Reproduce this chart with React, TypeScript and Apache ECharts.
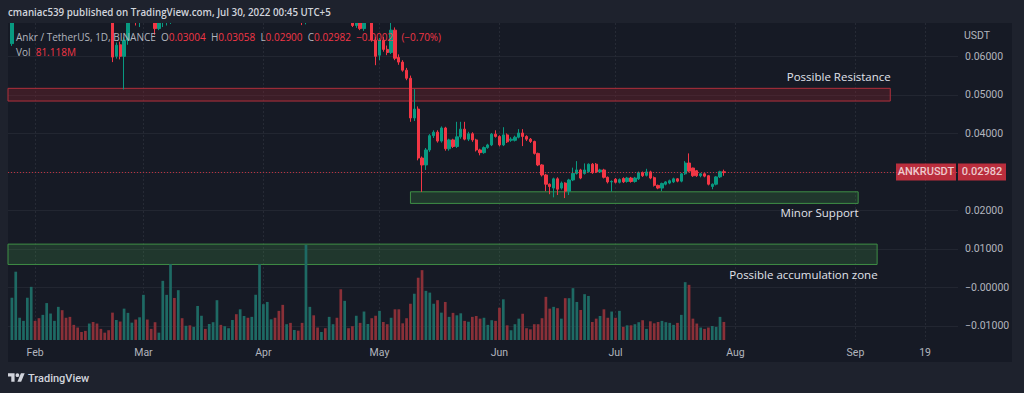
import React, { useEffect, useRef } from "react";
import * as echarts from "echarts";

// ---- data (x = day index, 0 = 2022-01-26) ----
const opens = [
  0.0633, 0.0700, 0.0718, 0.0732, 0.0745, 0.0772, 0.0805, 0.0790, 0.0776, 0.0801,
  0.0840, 0.0862, 0.0880, 0.0915, 0.0880, 0.0858, 0.0832, 0.0818, 0.0805, 0.0798,
  0.0785, 0.0802, 0.0775, 0.0760, 0.0748, 0.0735, 0.0700, 0.0600, 0.0630, 0.0600,
  0.0642, 0.0702, 0.0722, 0.0690, 0.0718, 0.0752, 0.0728, 0.0705, 0.0672, 0.0696,
  0.0708, 0.0716, 0.0742, 0.0725, 0.0745, 0.0730, 0.0738, 0.0726, 0.0734, 0.0752,
  0.0766, 0.0758, 0.0768, 0.0779, 0.0805, 0.0796, 0.0808, 0.0815, 0.0830, 0.0812,
  0.0838, 0.0856, 0.0841, 0.0858, 0.0880, 0.0925, 0.0945, 0.0960, 0.0968, 0.0952,
  0.0925, 0.0890, 0.0898, 0.0862, 0.0871, 0.0842, 0.0745, 0.0768, 0.0790, 0.0762,
  0.0750, 0.0765, 0.0748, 0.0770, 0.0781, 0.0755, 0.0718, 0.0738, 0.0722, 0.0680,
  0.0708, 0.0672, 0.0695, 0.0712, 0.0642, 0.0603, 0.0642, 0.0618, 0.0610, 0.0668,
  0.0597, 0.0585, 0.0564, 0.0543, 0.0440, 0.0463, 0.0336, 0.0318, 0.0357, 0.0394,
  0.0403, 0.0380, 0.0414, 0.0360, 0.0383, 0.0366, 0.0391, 0.0411, 0.0385, 0.0399,
  0.0383, 0.0357, 0.0350, 0.0363, 0.0370, 0.0398, 0.0392, 0.0370, 0.0396, 0.0382,
  0.0382, 0.0390, 0.0401, 0.0392, 0.0385, 0.0379, 0.0348, 0.0318, 0.0292, 0.0268,
  0.0258, 0.0282, 0.0258, 0.0271, 0.0250, 0.0279, 0.0296, 0.0305, 0.0296, 0.0301,
  0.0320, 0.0320, 0.0300, 0.0305, 0.0286, 0.0274, 0.0281, 0.0273, 0.0283, 0.0275,
  0.0284, 0.0275, 0.0282, 0.0298, 0.0291, 0.0300, 0.0285, 0.0265, 0.0258, 0.0268,
  0.0271, 0.0274, 0.0282, 0.0276, 0.0295, 0.0323, 0.0310, 0.0303, 0.0290, 0.0295,
  0.0290, 0.0262, 0.0268, 0.0287, 0.03004,
];
const closes = [
  0.0700, 0.0718, 0.0732, 0.0745, 0.0772, 0.0805, 0.0790, 0.0776, 0.0801, 0.0840,
  0.0862, 0.0880, 0.0915, 0.0880, 0.0858, 0.0832, 0.0818, 0.0805, 0.0798, 0.0785,
  0.0802, 0.0775, 0.0760, 0.0748, 0.0735, 0.0700, 0.0598, 0.0629, 0.0600, 0.0642,
  0.0702, 0.0722, 0.0690, 0.0718, 0.0752, 0.0728, 0.0705, 0.0672, 0.0696, 0.0708,
  0.0716, 0.0742, 0.0725, 0.0745, 0.0730, 0.0738, 0.0726, 0.0734, 0.0752, 0.0766,
  0.0758, 0.0768, 0.0779, 0.0805, 0.0796, 0.0808, 0.0815, 0.0830, 0.0812, 0.0838,
  0.0856, 0.0841, 0.0858, 0.0880, 0.0925, 0.0945, 0.0960, 0.0968, 0.0952, 0.0925,
  0.0890, 0.0898, 0.0862, 0.0871, 0.0842, 0.0745, 0.0768, 0.0790, 0.0762, 0.0750,
  0.0765, 0.0748, 0.0770, 0.0781, 0.0755, 0.0718, 0.0738, 0.0722, 0.0680, 0.0708,
  0.0672, 0.0695, 0.0712, 0.0642, 0.0600, 0.0642, 0.0618, 0.0610, 0.0668, 0.0595,
  0.0585, 0.0564, 0.0543, 0.0440, 0.0463, 0.0336, 0.0318, 0.0357, 0.0394, 0.0403,
  0.0380, 0.0414, 0.0360, 0.0383, 0.0366, 0.0391, 0.0411, 0.0385, 0.0399, 0.0383,
  0.0357, 0.0350, 0.0363, 0.0370, 0.0398, 0.0392, 0.0370, 0.0396, 0.0378, 0.0385,
  0.0390, 0.0401, 0.0392, 0.0385, 0.0379, 0.0348, 0.0318, 0.0292, 0.0268, 0.0262,
  0.0282, 0.0255, 0.0271, 0.0250, 0.0279, 0.0296, 0.0305, 0.0284, 0.0305, 0.0320,
  0.0298, 0.0300, 0.0305, 0.0286, 0.0274, 0.0275, 0.0273, 0.0280, 0.0274, 0.0284,
  0.0275, 0.0284, 0.0298, 0.0290, 0.0300, 0.0284, 0.0265, 0.0258, 0.0270, 0.0274,
  0.0277, 0.0282, 0.0276, 0.0295, 0.0323, 0.0302, 0.0290, 0.0290, 0.0295, 0.0289,
  0.0268, 0.0268, 0.0287, 0.03003, 0.02982,
];
const lows = [
  0.0627, 0.0694, 0.0712, 0.0726, 0.0740, 0.0766, 0.0784, 0.0770, 0.0771, 0.0796,
  0.0832, 0.0855, 0.0872, 0.0872, 0.0850, 0.0825, 0.0811, 0.0798, 0.0792, 0.0778,
  0.0780, 0.0768, 0.0752, 0.0741, 0.0728, 0.0694, 0.0585, 0.0594, 0.0592, 0.0514,
  0.0630, 0.0696, 0.0680, 0.0676, 0.0712, 0.0722, 0.0698, 0.0656, 0.0668, 0.0676,
  0.0680, 0.0684, 0.0718, 0.0720, 0.0724, 0.0725, 0.0720, 0.0721, 0.0729, 0.0747,
  0.0752, 0.0753, 0.0763, 0.0774, 0.0790, 0.0791, 0.0803, 0.0810, 0.0806, 0.0807,
  0.0832, 0.0835, 0.0836, 0.0852, 0.0874, 0.0918, 0.0938, 0.0952, 0.0945, 0.0918,
  0.0882, 0.0884, 0.0856, 0.0856, 0.0836, 0.0681, 0.0683, 0.0762, 0.0756, 0.0744,
  0.0745, 0.0742, 0.0743, 0.0765, 0.0749, 0.0711, 0.0713, 0.0716, 0.0676, 0.0674,
  0.0668, 0.0666, 0.0688, 0.0638, 0.0577, 0.0590, 0.0612, 0.0603, 0.0606, 0.0590,
  0.0578, 0.0560, 0.0538, 0.0430, 0.0432, 0.0330, 0.0248, 0.0305, 0.0352, 0.0388,
  0.0376, 0.0376, 0.0355, 0.0355, 0.0362, 0.0362, 0.0386, 0.0382, 0.0380, 0.0378,
  0.0353, 0.0343, 0.0347, 0.0360, 0.0367, 0.0389, 0.0366, 0.0367, 0.0375, 0.0378,
  0.0379, 0.0387, 0.0367, 0.0380, 0.0375, 0.0345, 0.0315, 0.0288, 0.0250, 0.0242,
  0.0234, 0.0240, 0.0254, 0.0232, 0.0240, 0.0276, 0.0293, 0.0281, 0.0293, 0.0298,
  0.0295, 0.0297, 0.0297, 0.0283, 0.0270, 0.0249, 0.0270, 0.0270, 0.0271, 0.0272,
  0.0272, 0.0272, 0.0279, 0.0287, 0.0288, 0.0281, 0.0262, 0.0255, 0.0250, 0.0265,
  0.0268, 0.0271, 0.0273, 0.0273, 0.0292, 0.0299, 0.0287, 0.0287, 0.0286, 0.0286,
  0.0265, 0.0255, 0.0265, 0.0284, 0.02900,
];
const highs = [
  0.0712, 0.0725, 0.0740, 0.0752, 0.0780, 0.0812, 0.0815, 0.0798, 0.0808, 0.0848,
  0.0870, 0.0890, 0.0925, 0.0922, 0.0888, 0.0865, 0.0840, 0.0826, 0.0812, 0.0806,
  0.0810, 0.0808, 0.0782, 0.0766, 0.0755, 0.0741, 0.0708, 0.0636, 0.0638, 0.0650,
  0.0712, 0.0730, 0.0728, 0.0725, 0.0760, 0.0758, 0.0734, 0.0712, 0.0702, 0.0715,
  0.0722, 0.0750, 0.0748, 0.0752, 0.0750, 0.0744, 0.0744, 0.0740, 0.0758, 0.0772,
  0.0771, 0.0774, 0.0785, 0.0812, 0.0810, 0.0814, 0.0820, 0.0836, 0.0835, 0.0844,
  0.0862, 0.0861, 0.0864, 0.0888, 0.0935, 0.0955, 0.0968, 0.0978, 0.0975, 0.0958,
  0.0930, 0.0905, 0.0903, 0.0878, 0.0876, 0.0848, 0.0775, 0.0797, 0.0795, 0.0768,
  0.0771, 0.0770, 0.0776, 0.0787, 0.0786, 0.0760, 0.0744, 0.0743, 0.0727, 0.0714,
  0.0713, 0.0701, 0.0718, 0.0718, 0.0650, 0.0648, 0.0650, 0.0628, 0.0690, 0.0675,
  0.0605, 0.0590, 0.0570, 0.0550, 0.0515, 0.0470, 0.0340, 0.0362, 0.0398, 0.0408,
  0.0408, 0.0418, 0.0417, 0.0386, 0.0386, 0.0430, 0.0430, 0.0430, 0.0404, 0.0403,
  0.0386, 0.0360, 0.0366, 0.0373, 0.0401, 0.0408, 0.0395, 0.0416, 0.0400, 0.0390,
  0.0394, 0.0411, 0.0411, 0.0395, 0.0388, 0.0381, 0.0350, 0.0320, 0.0295, 0.0270,
  0.0285, 0.0286, 0.0275, 0.0273, 0.0282, 0.0311, 0.0328, 0.0308, 0.0322, 0.0322,
  0.0323, 0.0323, 0.0308, 0.0308, 0.0288, 0.0278, 0.0284, 0.0283, 0.0286, 0.0287,
  0.0287, 0.0287, 0.0301, 0.0301, 0.0308, 0.0303, 0.0288, 0.0267, 0.0272, 0.0276,
  0.0280, 0.0285, 0.0284, 0.0297, 0.0328, 0.0348, 0.0311, 0.0305, 0.0297, 0.0297,
  0.0292, 0.0270, 0.0289, 0.0303, 0.03058,
];
// volume in millions
const volumes = [
  190, 307, 100, 86, 190, 239, 86, 98, 113, 166,
  119, 86, 149, 134, 100, 104, 68, 56, 36, 41,
  74, 81, 74, 50, 33, 44, 123, 90, 83, 141,
  122, 78, 92, 102, 203, 92, 50, 80, 33, 266,
  203, 341, 189, 224, 98, 64, 66, 59, 153, 109,
  50, 72, 80, 179, 68, 62, 53, 90, 116, 138,
  108, 100, 104, 203, 341, 161, 171, 93, 100, 131,
  158, 71, 77, 45, 42, 77, 428, 149, 111, 56,
  36, 53, 104, 71, 100, 228, 176, 53, 62, 109,
  77, 128, 72, 98, 109, 131, 81, 71, 100, 138,
  138, 75, 98, 163, 208, 280, 314, 221, 213, 163,
  179, 123, 171, 104, 122, 111, 120, 86, 82, 104,
  108, 96, 100, 68, 89, 86, 145, 183, 66, 44,
  71, 96, 118, 53, 48, 71, 71, 98, 194, 141,
  149, 143, 96, 188, 188, 233, 171, 135, 206, 198,
  81, 96, 108, 138, 100, 128, 100, 131, 59, 66,
  66, 71, 80, 89, 50, 84, 75, 81, 86, 80,
  77, 68, 77, 113, 260, 248, 96, 74, 56, 50,
  56, 63, 59, 104, 81.118,
];

const timeTickDays = [6, 34, 65, 95, 126, 156, 187, 218, 236];
const timeTickLabels = ["Feb", "Mar", "Apr", "May", "Jun", "Jul", "Aug", "Sep", "19"];
const priceGridValues = [-0.01, 0, 0.01, 0.02, 0.03, 0.04, 0.05, 0.06];
const priceLabelValues = [-0.01, 0, 0.01, 0.02, 0.04, 0.05, 0.06];

const zoneNames = ["Possible Resistance", "Minor Support", "Possible accumulation zone"];
const zoneFrom = [-1, 103, -1];
const zoneTo = [227, 218.7, 223.6];
const zoneHigh = [0.05169, 0.02483, 0.01125];
const zoneLow = [0.04839, 0.02182, 0.00597];

const UP = "#089981";
const DOWN = "#f23645";
const VOL_UP = "#1e6a64";
const VOL_DOWN = "#8a3038";
const OUTER_BG = "#1e222d";

echarts.graphic.registerShape(
  "tvlogo",
  echarts.graphic.extendPath(
    "M14 22H7V11H0V4h14v18zM28 22h-8l7.5-18h8L28 22zM16 8a4 4 0 1 0 8 0a4 4 0 1 0 -8 0z",
    {}
  )
);

function fmtPrice(v: number) {
  if (Math.abs(v) < 1e-12) return "\u22120.00000";
  if (v < 0) return "\u2212" + Math.abs(v).toFixed(5);
  return v.toFixed(5);
}

export default function App() {
  const ref = useRef<HTMLDivElement>(null);
  useEffect(() => {
    const el = ref.current;
    if (!el) return;
    const chart = echarts.init(el, null, { renderer: "svg" });
    const n = closes.length;
    const candleData = closes.map((c, i) => [i, opens[i], c, lows[i], highs[i]]);
    const volData = volumes.map((v, i) => ({
      value: [i, v],
      itemStyle: { color: closes[i] >= opens[i] ? VOL_UP : VOL_DOWN },
    }));
    const last = n - 1;
    const chg = closes[last] - closes[last - 1];
    const pct = (chg / closes[last - 1]) * 100;
    const chgStr =
      (chg < 0 ? "\u2212" : "+") + Math.abs(chg).toFixed(5) +
      " (" + (pct < 0 ? "\u2212" : "+") + Math.abs(pct).toFixed(2) + "%)";

    const zoneLabelPos: any[] = [["100%", -11], ["100%", 21.6], ["100%", 31]];
    const zoneStyles = [
      { color: "rgba(150,36,48,0.30)", borderColor: "#b0303c", borderWidth: 1 },
      { color: "rgba(76,175,80,0.20)", borderColor: "#3f8f46", borderWidth: 1 },
      { color: "rgba(76,175,80,0.20)", borderColor: "#3f8f46", borderWidth: 1 },
    ];
    const markAreaData = zoneNames.map((name, k) => [
      {
        name,
        xAxis: zoneFrom[k],
        yAxis: zoneHigh[k],
        itemStyle: zoneStyles[k],
        label: {
          show: true,
          position: zoneLabelPos[k],
          align: "right",
          verticalAlign: "middle",
          color: "#e0e3eb",
          fontSize: 11.5,
          fontWeight: 500,
          fontFamily: "Open Sans",
        },
      },
      { xAxis: zoneTo[k], yAxis: zoneLow[k] },
    ]);

    const xMin = -1;
    const xMax = 244.5;
    const gridRect = { left: 8, right: 66, top: 23, bottom: 53 };

    const option: any = {
      animation: false,
      backgroundColor: "transparent",
      textStyle: { fontFamily: "Roboto" },
      grid: [
        { ...gridRect, outerBoundsMode: "none", containLabel: false },
        { ...gridRect, outerBoundsMode: "none", containLabel: false },
      ],
      xAxis: [
        {
          type: "value",
          gridIndex: 0,
          min: xMin,
          max: xMax,
          axisLine: { show: false },
          axisTick: { show: false, customValues: timeTickDays },
          axisLabel: {
            customValues: timeTickDays,
            formatter: (v: number) => {
              const k = timeTickDays.indexOf(Math.round(v));
              return k >= 0 ? timeTickLabels[k] : "";
            },
            color: "#b2b5be",
            fontSize: 10.5,
            fontFamily: "Roboto",
            margin: 7,
          },
          splitLine: {
            show: true,
            lineStyle: { color: "#262a35", width: 1, type: [2, 2] },
          },
        },
        {
          type: "value",
          gridIndex: 1,
          min: xMin,
          max: xMax,
          show: false,
          splitLine: { show: false },
        },
      ],
      yAxis: [
        {
          type: "value",
          gridIndex: 0,
          position: "right",
          min: -0.01364,
          max: 0.06865,
          axisLine: { show: false },
          axisTick: { show: false, customValues: priceGridValues },
          axisLabel: {
            customValues: priceLabelValues,
            formatter: (v: number) => fmtPrice(v),
            color: "#b2b5be",
            fontSize: 10.5,
            fontFamily: "Roboto",
            margin: 7,
            align: "left",
          },
          splitLine: { show: true, lineStyle: { color: "#222631", width: 1 } },
        },
        {
          type: "value",
          gridIndex: 1,
          min: 0,
          max: 1425,
          show: false,
          splitLine: { show: false },
        },
      ],
      series: [
        {
          type: "bar",
          name: "Vol",
          xAxisIndex: 1,
          yAxisIndex: 1,
          data: volData,
          barWidth: 2.7,
          z: 1,
          silent: true,
        },
        {
          type: "candlestick",
          name: "ANKRUSDT",
          xAxisIndex: 0,
          yAxisIndex: 0,
          data: candleData,
          encode: { x: 0, y: [1, 2, 3, 4] },
          barWidth: 2.8,
          clip: true,
          z: 3,
          silent: true,
          itemStyle: {
            color: UP,
            color0: DOWN,
            borderColor: UP,
            borderColor0: DOWN,
            borderWidth: 1,
          },
          markArea: {
            silent: true,
            data: markAreaData,
          },
          markLine: {
            silent: true,
            symbol: ["none", "none"],
            data: [{ yAxis: closes[last], name: "ANKRUSDT" }],
            lineStyle: { color: DOWN, type: [1, 2], width: 1, opacity: 0.75 },
            label: {
              show: true,
              position: "end",
              distance: -62,
              formatter: "{a|ANKRUSDT}{s|}{b|" + closes[last].toFixed(5) + "}",
              rich: {
                a: {
                  backgroundColor: DOWN,
                  color: "#ffffff",
                  fontSize: 11,
                  fontFamily: "Roboto",
                  fontWeight: 500,
                  width: 50,
                  align: "center",
                  padding: [3, 5, 3, 5],
                  lineHeight: 11,
                },
                s: { width: 2, lineHeight: 11 },
                b: {
                  backgroundColor: DOWN,
                  color: "#ffffff",
                  fontSize: 11,
                  fontFamily: "Roboto",
                  fontWeight: 500,
                  width: 40,
                  align: "center",
                  padding: [3, 4, 3, 4],
                  lineHeight: 11,
                },
              },
            },
          },
        },
      ],
      graphic: [
        {
          type: "rect",
          silent: true,
          z: 100,
          shape: { x: 0, y: 0, width: 1024, height: 23 },
          style: { fill: OUTER_BG },
        },
        {
          type: "text",
          x: 8,
          y: 12,
          silent: true,
          z: 101,
          style: {
            text: "cmaniac539 published on TradingView.com, Jul 30, 2022 00:45 UTC+5",
            fill: "#d1d4dc",
            fontSize: 9.8,
            fontWeight: 600,
            fontFamily: "Open Sans",
            verticalAlign: "middle",
          },
        },
        {
          type: "text",
          x: 16,
          y: 37,
          silent: true,
          z: 101,
          style: {
            text:
              "{n|Ankr / TetherUS, 1D, BINANCE}  {l|O}{v|" + opens[last].toFixed(5) +
              "}  {l|H}{v|" + highs[last].toFixed(5) +
              "}  {l|L}{v|" + lows[last].toFixed(5) +
              "}  {l|C}{v|" + closes[last].toFixed(5) +
              "}  {v|" + chgStr + "}",
            fill: "#b2b5be",
            fontSize: 10,
            fontFamily: "Open Sans",
            verticalAlign: "middle",
            rich: {
              n: { fill: "#b2b5be", fontSize: 10, fontFamily: "Open Sans" },
              l: { fill: "#b2b5be", fontSize: 10, fontFamily: "Open Sans" },
              v: { fill: DOWN, fontSize: 10, fontFamily: "Open Sans" },
            },
          },
        },
        {
          type: "text",
          x: 16,
          y: 52,
          silent: true,
          z: 101,
          style: {
            text: "{l|Vol}  {v|" + volumes[last].toFixed(3) + "M}",
            fill: "#b2b5be",
            fontSize: 10,
            fontFamily: "Open Sans",
            verticalAlign: "middle",
            rich: {
              l: { fill: "#b2b5be", fontSize: 10, fontFamily: "Open Sans" },
              v: { fill: DOWN, fontSize: 10, fontFamily: "Open Sans" },
            },
          },
        },
        {
          type: "text",
          x: 964,
          y: 35,
          silent: true,
          z: 101,
          style: {
            text: "USDT",
            fill: "#b2b5be",
            fontSize: 10.5,
            fontFamily: "Roboto",
            verticalAlign: "middle",
          },
        },
        {
          type: "tvlogo",
          x: 8,
          y: 371.4,
          scaleX: 0.47,
          scaleY: 0.47,
          silent: true,
          z: 101,
          style: { fill: "#d1d4dc" },
        },
        {
          type: "text",
          x: 28,
          y: 378,
          silent: true,
          z: 101,
          style: {
            text: "TradingView",
            fill: "#d1d4dc",
            fontSize: 11,
            fontWeight: 500,
            fontFamily: "Roboto",
            verticalAlign: "middle",
          },
        },
      ],
    };
    chart.setOption(option);
    return () => chart.dispose();
  }, []);

  return (
    <div
      style={{
        position: "fixed",
        left: 0,
        top: 0,
        width: 1024,
        height: 393,
        background: OUTER_BG,
        overflow: "hidden",
      }}
    >
      <div
        style={{
          position: "absolute",
          left: 8,
          top: 23,
          width: 1004,
          height: 339,
          background: "#161a25",
        }}
      />
      <div
        ref={ref}
        style={{ position: "absolute", left: 0, top: 0, width: 1024, height: 393 }}
      />
    </div>
  );
}
